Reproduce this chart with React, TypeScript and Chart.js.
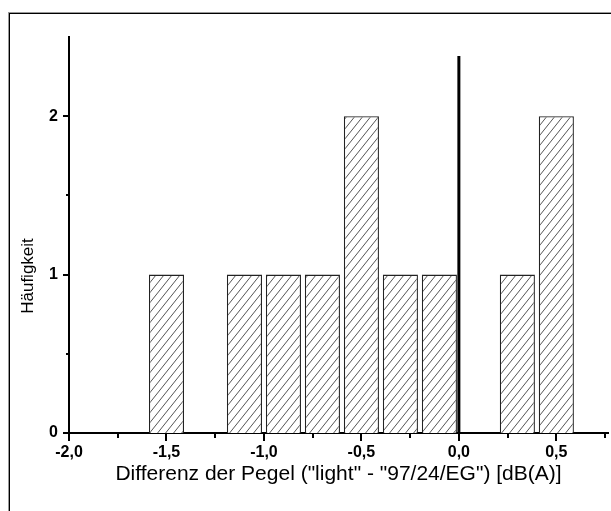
import React, { useEffect, useRef } from "react";
import { Chart, registerables } from "chart.js";

Chart.register(...registerables);

// Histogram bins (center of each 0.2-wide bin) and counts
const BIN_CENTERS = [-1.5, -1.1, -0.9, -0.7, -0.5, -0.3, -0.1, 0.3, 0.5];
const COUNTS = [1, 1, 1, 1, 2, 1, 1, 1, 2];

// Vertical reference line at 0
const REF_LINE_X = [0, 0];
const REF_LINE_Y = [0, 2.38];

// Axis ticks
const X_MAJOR = [-2, -1.5, -1, -0.5, 0, 0.5];
const X_LABELS = ["-2,0", "-1,5", "-1,0", "-0,5", "0,0", "0,5"];
const X_MINOR = [-1.75, -1.25, -0.75, -0.25, 0.25, 0.75];
const Y_MAJOR = [0, 1, 2];
const Y_LABELS = ["0", "1", "2"];
const Y_MINOR = [0.5, 1.5];

const X_TITLE = 'Differenz der Pegel ("light" - "97/24/EG") [dB(A)]';
const Y_TITLE = "Häufigkeit";

const FONT = "'Liberation Sans', Arial, sans-serif";

function makeHatch(): CanvasPattern | string {
  const c = document.createElement("canvas");
  const w = 8;
  const h = 10;
  c.width = w;
  c.height = h;
  const ctx = c.getContext("2d");
  if (!ctx) return "#fff";
  ctx.fillStyle = "#ffffff";
  ctx.fillRect(0, 0, w, h);
  ctx.strokeStyle = "#555";
  ctx.lineWidth = 1;
  ctx.beginPath();
  for (let k = -1; k <= 1; k++) {
    ctx.moveTo(k * w, h);
    ctx.lineTo(k * w + w, 0);
  }
  ctx.stroke();
  return ctx.createPattern(c, "repeat") || "#fff";
}

const tickPlugin = {
  id: "originTicks",
  afterDraw(chart: any) {
    const { ctx, chartArea } = chart;
    const xs = chart.scales.x;
    const ys = chart.scales.y;
    ctx.save();
    ctx.strokeStyle = "#000";
    ctx.lineWidth = 2;
    ctx.beginPath();
    X_MAJOR.forEach((v) => {
      const px = Math.round(xs.getPixelForValue(v));
      ctx.moveTo(px, chartArea.bottom);
      ctx.lineTo(px, chartArea.bottom + 8);
    });
    X_MINOR.forEach((v) => {
      const px = Math.round(xs.getPixelForValue(v));
      ctx.moveTo(px, chartArea.bottom);
      ctx.lineTo(px, chartArea.bottom + 5);
    });
    Y_MAJOR.forEach((v) => {
      const py = Math.round(ys.getPixelForValue(v));
      ctx.moveTo(chartArea.left, py);
      ctx.lineTo(chartArea.left - 6, py);
    });
    Y_MINOR.forEach((v) => {
      const py = Math.round(ys.getPixelForValue(v));
      ctx.moveTo(chartArea.left, py);
      ctx.lineTo(chartArea.left - 3, py);
    });
    ctx.stroke();

    // y-axis title (placed off-centre as in the original)
    ctx.translate(28, 276);
    ctx.rotate(-Math.PI / 2);
    ctx.fillStyle = "#000";
    ctx.font = `17px ${FONT}`;
    ctx.textAlign = "center";
    ctx.textBaseline = "middle";
    ctx.fillText(Y_TITLE, 0, 0);
    ctx.restore();
  },
};

function labelFor(values: number[], labels: string[], v: number) {
  const i = values.findIndex((x) => Math.abs(x - v) < 1e-6);
  return i >= 0 ? labels[i] : "";
}

export default function App() {
  const ref = useRef<HTMLCanvasElement | null>(null);

  useEffect(() => {
    if (!ref.current) return;
    const hatch = makeHatch();
    const chart = new Chart(ref.current, {
      type: "bar",
      data: {
        datasets: [
          {
            type: "bar",
            data: BIN_CENTERS.map((x, i) => ({ x, y: COUNTS[i] })),
            backgroundColor: hatch as any,
            borderColor: "#222",
            borderWidth: 1.3,
            barPercentage: 0.9,
            categoryPercentage: 1,
            order: 2,
          } as any,
          {
            type: "line",
            data: REF_LINE_X.map((x, i) => ({ x, y: REF_LINE_Y[i] })),
            borderColor: "#000",
            borderWidth: 3,
            pointRadius: 0,
            order: 1,
          } as any,
        ],
      },
      options: {
        responsive: false,
        animation: false,
        layout: { padding: { left: 0, top: 37, right: 3, bottom: 0 } },
        plugins: {
          legend: { display: false },
          tooltip: { enabled: false },
        },
        scales: {
          x: {
            type: "linear",
            offset: false,
            min: -2,
            max: 0.765,
            grid: { display: false, drawTicks: false, offset: false },
            border: { display: true, color: "#000", width: 2 },
            ticks: {
              stepSize: 0.5,
              includeBounds: false,
              autoSkip: false,
              maxRotation: 0,
              padding: 10,
              color: "#000",
              font: { family: FONT, size: 16, weight: "bold" },
              callback: (v: any) => labelFor(X_MAJOR, X_LABELS, Number(v)),
            },
            title: {
              display: true,
              text: X_TITLE,
              color: "#000",
              font: { family: FONT, size: 21 },
              padding: { top: 0, bottom: 24 },
            },
            afterFit: (s: any) => {
              s.height = 511 - 433;
            },
          },
          y: {
            type: "linear",
            min: 0,
            max: 2.5,
            grid: { display: false, drawTicks: false },
            border: { display: true, color: "#000", width: 2 },
            ticks: {
              stepSize: 1,
              includeBounds: false,
              autoSkip: false,
              padding: 11,
              color: "#000",
              font: { family: FONT, size: 16, weight: "bold" },
              callback: (v: any) => labelFor(Y_MAJOR, Y_LABELS, Number(v)),
            },
            title: { display: false },
            afterFit: (s: any) => {
              s.width = 69;
            },
          },
        },
      },
      plugins: [tickPlugin],
    });
    return () => chart.destroy();
  }, []);

  return (
    <div style={{ position: "fixed", left: 0, top: 0, width: 611, height: 511, overflow: "hidden", background: "#fff" }}>
      <div
        style={{
          position: "absolute",
          left: 9,
          top: 13,
          width: 700,
          height: 600,
          border: "1px solid #000",
          boxShadow: "-1px -1px 0 #999",
        }}
      />
      <canvas ref={ref} width={611} height={511} style={{ position: "absolute", left: 0, top: 0, width: 611, height: 511 }} />
    </div>
  );
}
